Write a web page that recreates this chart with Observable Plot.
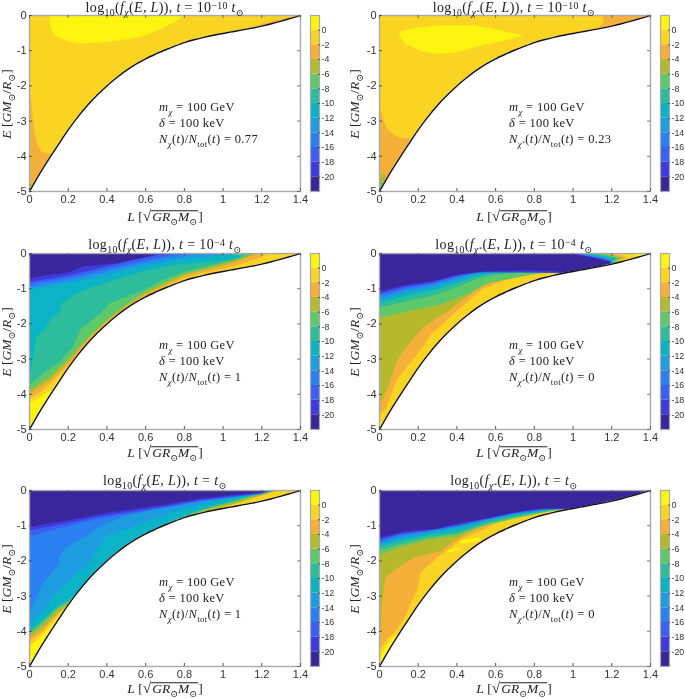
<!DOCTYPE html>
<html><head><meta charset="utf-8">
<script src="https://cdn.jsdelivr.net/npm/d3@7"></script>
<script src="https://cdn.jsdelivr.net/npm/@observablehq/plot@0.6"></script>
<style>
html,body{margin:0;padding:0;background:#fff}
#page{position:relative;width:685px;height:698px;overflow:hidden;filter:blur(0.5px)}
#page svg{position:absolute;overflow:visible}
.m{position:absolute;font-family:"Liberation Serif","DejaVu Serif",serif;color:#222;white-space:nowrap;line-height:1}
.m sub,.m sup{font-size:70%;line-height:0}
.m sup{vertical-align:.32em}
.c{transform:translate(-50%,-50%)}
.r{transform:translate(-50%,-50%) rotate(-90deg)}
.sp{letter-spacing:.35px}
.sq{display:inline-block;border-top:1px solid #222;padding:0 1px;line-height:.82}
.rt{font-size:115%;line-height:0}
</style></head><body><div id="page"></div>
<script>
const xTicks=[0,0.2,0.4,0.6,0.8,1,1.2,1.4];
const yTicks=[0,-1,-2,-3,-4,-5];
const cbTicks=[0,-2,-4,-6,-8,-10,-12,-14,-16,-18,-20];
const bandColors=["#fdf510","#f9d423","#f5b03a","#b5ba2d","#5ec96a","#2dbd9b","#0bb3c6","#1d9ce0","#2a80f0","#3b5ff0","#4039dc","#39269c"];
const bandTops=[2,0,-2,-4,-6,-8,-10,-12,-14,-16,-18,-20];
const boundary=[[0,-5],[.05,-4.52],[.1,-4.08],[.15,-3.66],[.2,-3.25],[.25,-2.88],[.3,-2.55],[.35,-2.26],[.4,-2],[.45,-1.77],[.5,-1.56],[.55,-1.38],[.6,-1.23],[.65,-1.1],[.7,-.98],[.75,-.87],[.8,-.77],[.85,-.69],[.9,-.62],[.95,-.56],[1,-.51],[1.05,-.46],[1.1,-.41],[1.15,-.36],[1.2,-.3],[1.25,-.235],[1.3,-.16],[1.35,-.08],[1.4,0]];

const panelA=[
 [0,[[.103,0],[.11,-.38],[.133,-.57],[.193,-.71],[.262,-.78],[.366,-.76],[.486,-.69],[.59,-.57],[.676,-.38],[.745,-.19],[.797,0]]],
 [2,[[0,-2.04],[.007,-2.42],[.02,-3.08],[.038,-3.65],[.064,-3.89],[.107,-3.94],[.12,-3.94],[.12,-5],[0,-5]]],
 [2,[[1.1,-.44],[1.2,-.24],[1.3,-.1],[1.4,0],[1.4,-1],[1.1,-1]]],
 [3,[[0,-4.75],[.02,-4.85],[.02,-5],[0,-5]]]
];
const panelB=[
 [0,[[.1,-.57],[.109,-.446],[.195,-.35],[.316,-.285],[.488,-.285],[.626,-.427],[.738,-.57],[.643,-.71],[.522,-.854],[.402,-1.04],[.298,-1.09],[.212,-.996],[.134,-.806]]],
 [2,[[0,-2.09],[.005,-2.7],[.03,-3.13],[.057,-3.32],[.1,-3.48],[.152,-3.5],[.2,-3.4],[.2,-5],[0,-5]]],
 [2,[[1.15,0],[1.4,0],[1.4,-1],[1.14,-1],[1.14,-.3],[1.16,-.2]]],
 [3,[[0,-4.5],[.03,-4.55],[.03,-5],[0,-5]]],
 [4,[[0,-4.7],[.015,-4.75],[.015,-5],[0,-5]]],
 [5,[[0,-4.85],[.008,-4.88],[.008,-5],[0,-5]]]
];
const panelC=[
 [1,[[0,-4.24],[.05,-4.1],[.1,-3.9],[.13,-3.85],[.2,-3.3],[.3,-2.6],[.4,-2.05],[.5,-1.6],[.6,-1.27],[.7,-1],[.8,-.78],[.9,-.64],[1,-.53],[1.1,-.43],[1.2,-.27],[1.3,-.14],[1.4,0]]],
 [2,[[0,-4.12],[.05,-3.96],[.1,-3.72],[.2,-3.18],[.3,-2.5],[.4,-1.96],[.5,-1.52],[.6,-1.19],[.7,-.93],[.8,-.69],[.9,-.55],[1,-.43],[1.1,-.28],[1.2,-.09],[1.23,0]]],
 [3,[[0,-3.98],[.1,-3.62],[.2,-3.08],[.3,-2.44],[.4,-1.92],[.5,-1.49],[.6,-1.14],[.7,-.88],[.8,-.62],[.9,-.47],[1,-.34],[1.1,-.17],[1.17,0]]],
 [4,[[0,-3.88],[.1,-3.52],[.2,-3.0],[.3,-2.38],[.4,-1.87],[.5,-1.45],[.6,-1.08],[.7,-.83],[.8,-.57],[.9,-.44],[1,-.28],[1.1,-.12],[1.16,0]]],
 [5,[[0,-3.72],[.072,-3.39],[.159,-3.06],[.219,-2.68],[.262,-2.16],[.366,-1.69],[.417,-1.4],[.572,-1.07],[.71,-.69],[.814,-.5],[.952,-.31],[1.09,-.12],[1.115,0]]],
 [6,[[0,-3.48],[.02,-2.92],[.034,-2.35],[.072,-2.21],[.107,-1.88],[.159,-1.64],[.167,-1.4],[.262,-1.07],[.417,-.79],[.59,-.5],[.762,-.31],[.952,-.22],[1.055,-.15],[1.09,-.08],[1.02,0]]],
 [7,[[0,-1.02],[.2,-.83],[.37,-.65],[.54,-.41],[.71,-.22],[.88,-.1],[1,-.05],[1.02,0]]],
 [8,[[0,-.95],[.2,-.75],[.37,-.55],[.54,-.33],[.71,-.14],[.85,-.03],[.9,0]]],
 [9,[[0,-.87],[.2,-.68],[.37,-.47],[.54,-.26],[.7,-.08],[.8,0]]],
 [10,[[0,-.8],[.2,-.62],[.37,-.4],[.54,-.18],[.65,-.05],[.72,0]]],
 [11,[[0,-.7],[.1,-.6],[.193,-.55],[.28,-.36],[.45,-.27],[.676,0]]]
];
const panelD=[
 [1,[[0,-4.81],[.03,-4.72],[.1,-4.06],[.2,-3.25],[.3,-2.55],[.4,-2],[.5,-1.56],[.6,-1.23],[.7,-.97],[.8,-.76],[.9,-.62],[.95,-.56],[1.2,-.4],[1.32,-.3],[1.32,0]]],
 [2,[[0,-4.57],[.03,-4.43],[.09,-3.58],[.143,-3.2],[.212,-2.73],[.272,-2.25],[.316,-2.06],[.384,-1.69],[.488,-1.21],[.54,-.98],[.66,-.74],[.78,-.6],[.9,-.53],[1,-.52],[1.22,-.35],[1.24,-.2],[1.28,-.12],[1.24,-.04],[1.2,0]]],
 [3,[[0,-4.29],[.03,-3.96],[.057,-3.58],[.09,-3.01],[.143,-2.63],[.212,-2.16],[.281,-1.88],[.367,-1.59],[.453,-1.21],[.522,-.93],[.66,-.69],[.78,-.57],[.92,-.51],[1.22,-.33],[1.23,-.2],[1.26,-.12],[1.2,-.04],[1.15,0]]],
 [4,[[0,-1.83],[.03,-1.78],[.143,-1.64],[.316,-1.45],[.47,-1.12],[.557,-.83],[.695,-.69],[.833,-.55],[.92,-.53],[1.21,-.34],[1.22,-.2],[1.24,-.13],[1.18,-.04],[1.12,0]]],
 [5,[[0,-1.52],[.143,-1.35],[.27,-1.2],[.4,-.95],[.5,-.72],[.6,-.6],[.75,-.52],[.9,-.52],[1.2,-.35],[1.21,-.2],[1.23,-.14],[1.15,-.04],[1.08,0]]],
 [6,[[0,-1.4],[.14,-1.2],[.27,-1.05],[.4,-.83],[.5,-.63],[.6,-.55],[.75,-.5],[.9,-.51],[1.2,-.34],[1.2,-.2],[1.215,-.15],[1.13,-.05],[1.06,0]]],
 [7,[[0,-1.32],[.14,-1.1],[.27,-.97],[.4,-.75],[.5,-.58],[.6,-.52],[.75,-.49],[.95,-.53],[1.19,-.34],[1.19,-.2],[1.2,-.16],[1.11,-.06],[1.05,0]]],
 [8,[[0,-1.25],[.14,-1.03],[.27,-.9],[.4,-.7],[.5,-.55],[.6,-.51],[.95,-.54],[1.19,-.34],[1.19,-.21],[1.16,-.14],[1.09,-.07],[1.04,0]]],
 [9,[[0,-1.17],[.14,-.97],[.27,-.85],[.4,-.65],[.5,-.53],[.95,-.54],[1.19,-.34],[1.19,-.22],[1.14,-.14],[1.07,-.07],[1.03,0]]],
 [10,[[0,-1.12],[.14,-.92],[.27,-.82],[.4,-.62],[.5,-.51],[.95,-.54],[1.19,-.34],[1.19,-.23],[1.12,-.13],[1.05,-.06],[1.01,0]]],
 [11,[[0,-1.07],[.143,-.88],[.264,-.79],[.402,-.6],[.557,-.5],[.764,-.47],[.9,-.5],[.97,-.54],[1.19,-.34],[1.195,-.24],[1.1,-.12],[1.02,-.04],[1,0]]]
];
const panelE=[
 [1,[[0,-4.42],[.05,-4.2],[.09,-3.95],[.14,-3.65],[.2,-3.28],[.3,-2.7],[.5,-1.7],[.85,-.72],[1,-.5],[1.1,-.41],[1.2,-.26],[1.3,-.12],[1.4,0]]],
 [2,[[0,-4.3],[.07,-4],[.14,-3.55],[.3,-2.7],[.5,-1.8],[.85,-.69],[.95,-.53],[1.05,-.38],[1.15,-.2],[1.28,0]]],
 [3,[[0,-4.2],[.07,-3.9],[.14,-3.5],[.25,-3],[.5,-1.8],[.8,-.78],[.9,-.6],[1,-.46],[1.1,-.31],[1.2,-.13],[1.275,0]]],
 [4,[[0,-4.1],[.07,-3.8],[.14,-3.4],[.2,-3.2],[.3,-2.7],[.5,-1.8],[.7,-1.1],[.8,-.74],[.85,-.65],[.95,-.47],[1.05,-.34],[1.15,-.17],[1.27,0]]],
 [5,[[0,-4.05],[.07,-3.72],[.14,-3.35],[.2,-3.15],[.3,-2.7],[.5,-1.8],[.7,-1.1],[.78,-.78],[.85,-.62],[.95,-.45],[1.05,-.31],[1.15,-.15],[1.265,0]]],
 [6,[[0,-3.98],[.07,-3.65],[.14,-3.3],[.2,-3.1],[.3,-2.7],[.5,-1.8],[.7,-1.1],[.75,-.82],[.8,-.72],[.85,-.6],[.95,-.42],[1.05,-.28],[1.15,-.12],[1.26,0]]],
 [7,[[0,-3.84],[.072,-3.37],[.141,-2.9],[.228,-2.42],[.297,-2.13],[.366,-1.47],[.4,-1.28],[.572,-.95],[.71,-.66],[.83,-.47],[.986,-.28],[1.14,-.09],[1.255,0]]],
 [8,[[0,-3.56],[.02,-3.18],[.072,-2.61],[.133,-2.23],[.159,-2.04],[.15,-1.94],[.176,-1.66],[.262,-1.38],[.366,-1],[.5,-.71],[.676,-.47],[.81,-.33],[.97,-.19],[1.14,-.07],[1.25,0]]],
 [9,[[0,-1.3],[.03,-1.25],[.2,-1],[.37,-.78],[.54,-.63],[.71,-.47],[.88,-.3],[1.06,-.18],[1.2,-.09],[1.245,0]]],
 [10,[[0,-1.12],[.2,-.92],[.37,-.72],[.54,-.58],[.71,-.43],[.88,-.26],[1.06,-.15],[1.19,-.07],[1.24,0]]],
 [11,[[0,-1.02],[.193,-.85],[.366,-.66],[.538,-.52],[.71,-.38],[.883,-.22],[1.055,-.12],[1.19,-.05],[1.23,0]]]
];
const panelF=[
 [1,[[0,-4.75],[.04,-4.35],[.07,-4.15],[.1,-4.05],[.2,-3.25],[.3,-2.55],[.4,-2],[.5,-1.56],[.6,-1.23],[.7,-.97],[.8,-.76],[.9,-.62],[.97,-.54],[.97,0]]],
 [2,[[0,-4.5],[.04,-4.22],[.091,-3.94],[.134,-3.56],[.195,-2.8],[.212,-2.32],[.298,-1.9],[.367,-1.61],[.436,-1.33],[.522,-1.14],[.609,-.9],[.73,-.66],[.867,-.52],[.97,-.5],[.97,0]]],
 [3,[[0,-4.2],[.005,-3.94],[.014,-3.18],[.03,-2.47],[.083,-2.23],[.178,-1.9],[.316,-1.71],[.4,-1.38],[.52,-1],[.626,-.81],[.76,-.6],[.9,-.5],[.97,-.5],[.97,0]]],
 [4,[[0,-1.82],[.109,-1.6],[.25,-1.39],[.4,-1.28],[.55,-.98],[.7,-.79],[.85,-.62],[.97,-.5],[.97,0]]],
 [5,[[0,-1.68],[.109,-1.52],[.25,-1.33],[.4,-1.22],[.55,-.93],[.7,-.74],[.85,-.6],[.97,-.5],[.97,0]]],
 [6,[[0,-1.58],[.109,-1.42],[.25,-1.26],[.4,-1.15],[.55,-.89],[.7,-.7],[.85,-.57],[.97,-.5],[.97,0]]],
 [7,[[0,-1.53],[.109,-1.36],[.25,-1.2],[.4,-1.05],[.55,-.85],[.7,-.67],[.85,-.55],[.97,-.5],[.97,0]]],
 [8,[[0,-1.48],[.109,-1.3],[.25,-1.17],[.4,-1.02],[.55,-.83],[.7,-.65],[.85,-.54],[.97,-.5],[.97,0]]],
 [9,[[0,-1.43],[.109,-1.26],[.25,-1.14],[.4,-1],[.55,-.81],[.7,-.63],[.85,-.53],[.97,-.5],[.97,0]]],
 [10,[[0,-1.38],[.109,-1.22],[.25,-1.12],[.4,-.98],[.55,-.8],[.7,-.62],[.85,-.52],[.97,-.5],[.97,0]]],
 [11,[[0,-1.33],[.143,-1.14],[.298,-1.09],[.384,-.95],[.522,-.81],[.66,-.66],[.8,-.52],[.92,-.5],[.97,-.52],[1.1,-.42],[1.2,-.33],[1.3,-.2],[1.4,-.02],[1.4,0]]]
];
const streaksF=[
 [[.419,-1.42],[.522,-1.33],[.522,-1.42],[.419,-1.52]],
 [[.35,-1.71],[.419,-1.61],[.419,-1.66],[.35,-1.77]]
];

const titles=[
 'log<sub>10</sub>(<i>f<sub>χ</sub></i>(<i>E, L</i>)), <i>t</i> = 10<sup>−10</sup> <i>t</i><sub>⊙</sub>',
 'log<sub>10</sub>(<i>f<sub>χ<sup>*</sup></sub></i>(<i>E, L</i>)), <i>t</i> = 10<sup>−10</sup> <i>t</i><sub>⊙</sub>',
 'log<sub>10</sub>(<i>f<sub>χ</sub></i>(<i>E, L</i>)), <i>t</i> = 10<sup>−4</sup> <i>t</i><sub>⊙</sub>',
 'log<sub>10</sub>(<i>f<sub>χ<sup>*</sup></sub></i>(<i>E, L</i>)), <i>t</i> = 10<sup>−4</sup> <i>t</i><sub>⊙</sub>',
 'log<sub>10</sub>(<i>f<sub>χ</sub></i>(<i>E, L</i>)), <i>t</i> = <i>t</i><sub>⊙</sub>',
 'log<sub>10</sub>(<i>f<sub>χ<sup>*</sup></sub></i>(<i>E, L</i>)), <i>t</i> = <i>t</i><sub>⊙</sub>'
];
const fractions=['<i>N<sub>χ</sub></i>(<i>t</i>)/<i>N</i><sub>tot</sub>(<i>t</i>) = 0.77','<i>N<sub>χ<sup>*</sup></sub></i>(<i>t</i>)/<i>N</i><sub>tot</sub>(<i>t</i>) = 0.23','<i>N<sub>χ</sub></i>(<i>t</i>)/<i>N</i><sub>tot</sub>(<i>t</i>) = 1','<i>N<sub>χ<sup>*</sup></sub></i>(<i>t</i>)/<i>N</i><sub>tot</sub>(<i>t</i>) = 0','<i>N<sub>χ</sub></i>(<i>t</i>)/<i>N</i><sub>tot</sub>(<i>t</i>) = 1','<i>N<sub>χ<sup>*</sup></sub></i>(<i>t</i>)/<i>N</i><sub>tot</sub>(<i>t</i>) = 0'];
const massLine='<i>m<sub>χ</sub></i> = 100 GeV';
const deltaLine='<i>δ</i> = 100 keV';
const yLabel='<i>E</i> [<i>GM</i><sub>⊙</sub>/<i>R</i><sub>⊙</sub>]';
const xLabel='<i>L</i> [<span class="rt">√</span><span class="sq"><i>GR</i><sub>⊙</sub><i>M</i><sub>⊙</sub></span>]';

const page=document.getElementById('page');
const colX=[29,379], rowY=[15,253,490];
const titleY=[8,245,481], xLabelY=[217,453,689];
const panels=[
 {d:panelA,base:1,closed:false},{d:panelB,base:1,closed:false},
 {d:panelC,base:0,closed:true},{d:panelD,base:0,closed:true},
 {d:panelE,base:0,closed:true},{d:panelF,base:0,closed:true}
];
const fontStyle={background:"transparent",fontFamily:"'Liberation Sans',Arial,sans-serif",fontSize:"11px",color:"#333"};
const poly=(pts,c)=>Plot.line(pts,{x:d=>d[0],y:d=>d[1],fill:c,stroke:c,strokeWidth:.4});
const edge="monotone-x";

panels.forEach((p,i)=>{
 const col=i%2,row=i>>1,left=colX[col],top=rowY[row];
 const fills=p.d.map(([lv,pts])=>poly(p.closed?pts.concat([[0,0]]):pts,bandColors[lv]));
 const extra=i===5?streaksF.map(s=>poly(s,bandColors[0])):[];
 const svg=Plot.plot({
  width:305,height:207,marginLeft:29,marginRight:5,marginTop:6,marginBottom:25,
  style:fontStyle,
  x:{domain:[0,1.4]},y:{domain:[-5,0]},
  marks:[
   Plot.areaY(boundary,{x:d=>d[0],y1:0,y2:d=>d[1],fill:bandColors[p.base],curve:edge}),
   ...fills,...extra,
   Plot.areaY(boundary,{x:d=>d[0],y1:-5,y2:d=>d[1],fill:"#fff",curve:edge}),
   Plot.line(boundary,{x:d=>d[0],y:d=>d[1],stroke:"#111",strokeWidth:1.4,curve:edge}),
   Plot.frame({stroke:"#aaa",strokeWidth:1.4}),
   Plot.ruleX(xTicks,{x:d=>d,y1:0,y2:-0.08,stroke:"#555",strokeWidth:.8}),
   Plot.ruleY(yTicks,{y:d=>d,x1:1.4,x2:1.385,stroke:"#555",strokeWidth:.8}),
   Plot.axisX({anchor:"bottom",ticks:xTicks,tickSize:-3,tickPadding:7,tickFormat:d=>String(d),label:null,stroke:"#555"}),
   Plot.axisY({anchor:"left",ticks:yTicks,tickSize:-3,tickPadding:6,tickFormat:d=>String(d),label:null,stroke:"#555"})
  ]
 });
 svg.style.left=(left-29)+'px';svg.style.top=(top-6)+'px';
 page.appendChild(svg);

 const bar=Plot.plot({
  width:40,height:207,marginLeft:2,marginRight:29,marginTop:6,marginBottom:25,
  style:{...fontStyle,fontSize:"8.8px"},
  x:{domain:[0,1],axis:null},y:{domain:[-22,2]},
  marks:[
   Plot.rect(bandTops,{x1:0,x2:1,y1:d=>d,y2:d=>d-2,fill:(d,j)=>bandColors[j]}),
   Plot.frame({stroke:"#aaa",strokeWidth:1.2}),
   Plot.axisY({anchor:"right",ticks:cbTicks,tickSize:-2,tickPadding:4,tickFormat:d=>String(d),label:null,stroke:"#555"})
  ]
 });
 bar.style.left=(left+281-2)+'px';bar.style.top=(top-6)+'px';
 page.appendChild(bar);

 const add=(html,cls,x,y,fs)=>{const e=document.createElement('div');e.className='m '+cls;e.innerHTML=html;e.style.left=x+'px';e.style.top=y+'px';e.style.fontSize=fs+'px';page.appendChild(e);};
 const cx=left+136-(col?1:0);
 add(titles[i],'c sp',cx,titleY[row],14);
 add(xLabel,'c',cx,xLabelY[row],13.5);
 add(yLabel,'r',left-22-(col?2:0),top+89,13.5);
 const tx=left+130;
 add(massLine,'sp',tx,top+86,12.5);
 add(deltaLine,'sp',tx,top+102,12.5);
 add(fractions[i],'sp',tx,top+118,12.5);
});
</script></body></html>
